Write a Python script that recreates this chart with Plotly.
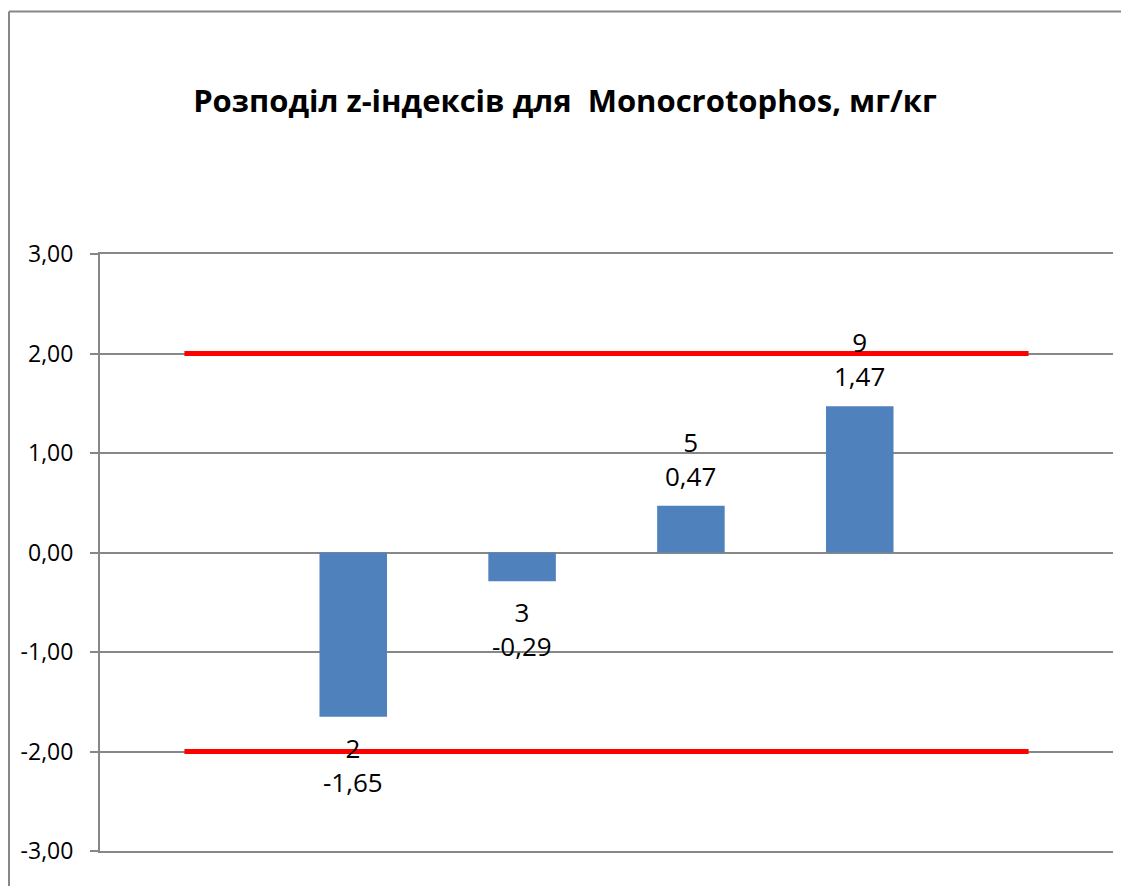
import plotly.graph_objects as go

# ---- data ----
categories = [" ", "2", "3", "5", "9", "  "]
lab_codes = ["2", "3", "5", "9"]
z_values = [-1.65, -0.29, 0.47, 1.47]
upper_limit = [2, 2, 2, 2, 2, 2]
lower_limit = [-2, -2, -2, -2, -2, -2]
y_ticks = [-3, -2, -1, 0, 1, 2, 3]
title_text = "Розподіл z-індексів для\u00a0 Monocrotophos, мг/кг"


def fmt(v):
    return f"{v:.2f}".replace(".", ",")


W, H = 1121, 886
L, R, T, B = 100, 8, 254, 35
pw, ph = W - L - R, H - T - B

FONT = "Open Sans"
GRID = "#878787"

fig = go.Figure()
fig.add_trace(go.Bar(x=lab_codes, y=z_values, marker=dict(color="#4F81BD", line=dict(width=0)),
                     width=0.4, showlegend=False, hoverinfo="skip"))
fig.add_trace(go.Scatter(x=categories, y=upper_limit, mode="lines",
                         line=dict(color="#FF0000", width=5), showlegend=False))
fig.add_trace(go.Scatter(x=categories, y=lower_limit, mode="lines",
                         line=dict(color="#FF0000", width=5), showlegend=False))

for code, v in zip(lab_codes, z_values):
    fig.add_annotation(x=categories.index(code), y=v, text=f"{code}<br>{fmt(v)}",
                       showarrow=False, yanchor="bottom" if v >= 0 else "top",
                       yshift=10 if v >= 0 else -11,
                       font=dict(family=FONT, size=26, color="#000000"))

# outer chart border: only left and top edges are visible in the frame
bx0, by_top = (9 - L) / pw, (H - B - 11.5) / ph
fig.add_shape(type="line", xref="paper", yref="paper",
              x0=bx0, x1=(W + 20 - L) / pw, y0=by_top, y1=by_top,
              line=dict(color=GRID, width=2), layer="below")
fig.add_shape(type="line", xref="paper", yref="paper",
              x0=bx0, x1=bx0, y0=by_top, y1=(H - B - 920) / ph,
              line=dict(color=GRID, width=2), layer="below")

fig.update_layout(
    width=W, height=H,
    margin=dict(l=L, r=R, t=T, b=B, pad=0),
    paper_bgcolor="white", plot_bgcolor="white",
    bargap=0.6,
    title=dict(text=title_text, x=565 / W, xanchor="center", y=1 - 101 / H, yanchor="middle",
               xref="container", yref="container",
               font=dict(family=FONT, size=31, color="#000000", weight="bold")),
    xaxis=dict(type="category", categoryorder="array", categoryarray=categories,
               range=[-0.5, 5.5], showticklabels=False, showgrid=False, zeroline=False,
               showline=True, mirror=True, linecolor=GRID, linewidth=2, ticks=""),
    yaxis=dict(range=[-3, 3], tickvals=y_ticks, ticktext=[fmt(t) for t in y_ticks],
               showgrid=True, gridcolor=GRID, gridwidth=2, zeroline=False,
               showline=True, linecolor=GRID, linewidth=2,
               ticks="outside", ticklen=8, tickcolor=GRID, tickwidth=2,
               ticklabelstandoff=12, automargin=False,
               tickfont=dict(family=FONT, size=23, color="#000000")),
)

fig.write_html(
    "out.html", config={"displayModeBar": False},
    post_script=("document.body.style.margin='0';"
                 "document.body.style.overflow='hidden';"
                 "document.documentElement.style.overflow='hidden';"),
)
